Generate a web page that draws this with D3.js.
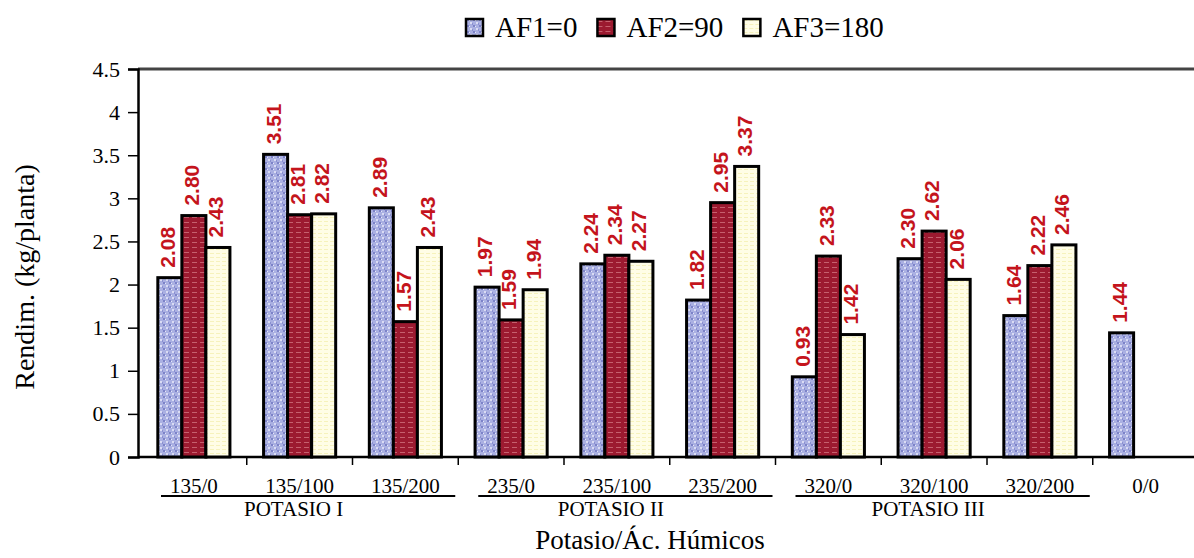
<!DOCTYPE html>
<html>
<head>
<meta charset="utf-8">
<script src="https://cdn.jsdelivr.net/npm/d3@7"></script>
<style>
  body { margin: 0; background: #fff; }
  svg { display: block; }
</style>
</head>
<body>
<svg width="1194" height="558"></svg>
<script>
let categories = ["135/0", "135/100", "135/200", "235/0", "235/100", "235/200", "320/0", "320/100", "320/200", "0/0"]
let series = ["AF1=0", "AF2=90", "AF3=180"]
let af1 = [2.08, 3.51, 2.89, 1.97, 2.24, 1.82, 0.93, 2.30, 1.64, 1.44]
let af2 = [2.80, 2.81, 1.57, 1.59, 2.34, 2.95, 2.33, 2.62, 2.22, null]
let af3 = [2.43, 2.82, 2.43, 1.94, 2.27, 3.37, 1.42, 2.06, 2.46, null]
let groupNames = ["POTASIO I", "POTASIO II", "POTASIO III"]
let groupCats = [["135/0", "135/100", "135/200"], ["235/0", "235/100", "235/200"], ["320/0", "320/100", "320/200"]]
let yTicks = [0, 0.5, 1, 1.5, 2, 2.5, 3, 3.5, 4, 4.5]

let values = [af1, af2, af3]
let serif = "'Liberation Serif', 'Times New Roman', serif"
let sans = "'Liberation Sans', Arial, sans-serif"

let margin = { top: 69, left: 138, bottom: 457 }
let svg = d3.select("svg")

let x = d3.scaleBand().domain(categories).range([141, 1198.5])
let x1 = d3.scaleBand().domain(series).range([0, x.bandwidth()]).paddingOuter(0.7)
let y = d3.scaleLinear().domain([0, 4.5]).range([457, 69])

// textured fills
let defs = svg.append("defs")
let pBlue = defs.append("pattern").attr("id", "pBlue").attr("patternUnits", "userSpaceOnUse")
    .attr("width", 6).attr("height", 6)
pBlue.append("rect").attr("width", 6).attr("height", 6).attr("fill", "#aab0e2")
pBlue.append("rect").attr("x", 1).attr("y", 0).attr("width", 2).attr("height", 2).attr("fill", "#7c82c8")
pBlue.append("rect").attr("x", 4).attr("y", 3).attr("width", 2).attr("height", 2).attr("fill", "#dadcf4")
pBlue.append("rect").attr("x", 0).attr("y", 4).attr("width", 1).attr("height", 2).attr("fill", "#8a8fd0")
pBlue.append("rect").attr("x", 3).attr("y", 1).attr("width", 1).attr("height", 1).attr("fill", "#e6e8f8")

let pRed = defs.append("pattern").attr("id", "pRed").attr("patternUnits", "userSpaceOnUse")
    .attr("width", 8).attr("height", 5)
pRed.append("rect").attr("width", 8).attr("height", 5).attr("fill", "#9c1a30")
pRed.append("rect").attr("x", 0).attr("y", 2).attr("width", 5).attr("height", 1).attr("fill", "#c6606e")

let pYel = defs.append("pattern").attr("id", "pYel").attr("patternUnits", "userSpaceOnUse")
    .attr("width", 6).attr("height", 4)
pYel.append("rect").attr("width", 6).attr("height", 4).attr("fill", "#fffde6")
pYel.append("rect").attr("x", 0).attr("y", 1).attr("width", 4).attr("height", 1).attr("fill", "#f6f2bc")

let fills = { "AF1=0": "url(#pBlue)", "AF2=90": "url(#pRed)", "AF3=180": "url(#pYel)" }

// frame top line
svg.append("line")
    .attr("x1", margin.left).attr("x2", 1194)
    .attr("y1", y(4.5)).attr("y2", y(4.5))
    .attr("stroke", "#444").attr("stroke-width", 3)

// y axis
let yAxis = d3.axisLeft(y).tickValues(yTicks).tickFormat(d => String(d)).tickSize(10).tickPadding(8)
let gy = svg.append("g").attr("transform", "translate(" + margin.left + ",0)").call(yAxis)
gy.select(".domain").attr("stroke", "#000").attr("stroke-width", 2.5)
gy.selectAll(".tick line").attr("stroke", "#000").attr("stroke-width", 1.5)
gy.selectAll(".tick text").style("font-family", serif).style("font-size", "22px").attr("fill", "#000")

// baseline and ticks between categories
svg.append("line")
    .attr("x1", margin.left).attr("x2", 1194)
    .attr("y1", y(0)).attr("y2", y(0))
    .attr("stroke", "#000").attr("stroke-width", 2.5)

svg.selectAll(".xtick")
    .data(categories.slice(1))
    .enter().append("line")
    .attr("class", "xtick")
    .attr("x1", d => x(d)).attr("x2", d => x(d))
    .attr("y1", y(0)).attr("y2", y(0) + 8)
    .attr("stroke", "#000").attr("stroke-width", 1.5)

// bars
let barData = []
categories.forEach((c, i) => {
    series.forEach((s, j) => {
        if (values[j][i] != null) barData.push({ cat: c, ser: s, v: values[j][i] })
    })
})

svg.selectAll(".bar")
    .data(barData)
    .enter().append("rect")
    .attr("class", "bar")
    .attr("x", d => x(d.cat) + x1(d.ser))
    .attr("y", d => y(d.v))
    .attr("width", x1.bandwidth())
    .attr("height", d => y(0) - y(d.v))
    .attr("fill", d => fills[d.ser])
    .attr("stroke", "#000")
    .attr("stroke-width", 3)

// value labels
svg.selectAll(".lbl")
    .data(barData)
    .enter().append("text")
    .attr("class", "lbl")
    .attr("transform", d => "translate(" + (x(d.cat) + x1(d.ser) + x1.bandwidth() / 2 - 2) + "," + (y(d.v) - 10) + ") rotate(-90)")
    .attr("dy", "0.35em")
    .style("font-family", sans)
    .style("font-weight", "bold")
    .style("font-size", "21px")
    .attr("fill", "#c4141c")
    .text(d => d.v.toFixed(2))

// category labels
svg.selectAll(".cat")
    .data(categories)
    .enter().append("text")
    .attr("class", "cat")
    .attr("x", d => x(d) + x.bandwidth() / 2)
    .attr("y", 493)
    .attr("text-anchor", "middle")
    .style("font-family", serif)
    .style("font-size", "21px")
    .text(d => d)

// group underlines and names
groupNames.forEach((g, i) => {
    let cats = groupCats[i]
    let x0 = x(cats[0]) + 20
    let xEnd = x(cats[cats.length - 1]) + x.bandwidth() - 3
    svg.append("line")
        .attr("x1", x0).attr("x2", xEnd)
        .attr("y1", 496).attr("y2", 496)
        .attr("stroke", "#000").attr("stroke-width", 2)
    svg.append("text")
        .attr("x", x(cats[1]) + x.bandwidth() / 2 - 6)
        .attr("y", 516)
        .attr("text-anchor", "middle")
        .style("font-family", serif)
        .style("font-size", "21px")
        .text(g)
})

// axis titles
svg.append("text")
    .attr("x", 650).attr("y", 549)
    .attr("text-anchor", "middle")
    .style("font-family", serif)
    .style("font-size", "27px")
    .text("Potasio/Ác. Húmicos")

svg.append("text")
    .attr("transform", "translate(34,277) rotate(-90)")
    .attr("text-anchor", "middle")
    .style("font-family", serif)
    .style("font-size", "28px")
    .text("Rendim. (kg/planta)")

// legend
let lx = 466
series.forEach(s => {
    let g = svg.append("g").attr("transform", "translate(" + lx + ",19)")
    g.append("rect")
        .attr("width", 17).attr("height", 17)
        .attr("fill", fills[s]).attr("stroke", "#000").attr("stroke-width", 2.5)
    let t = g.append("text")
        .attr("x", 29).attr("y", 18)
        .style("font-family", serif)
        .style("font-size", "29px")
        .text(s)
    lx += 29 + t.node().getComputedTextLength() + 20
})
</script>
</body>
</html>
